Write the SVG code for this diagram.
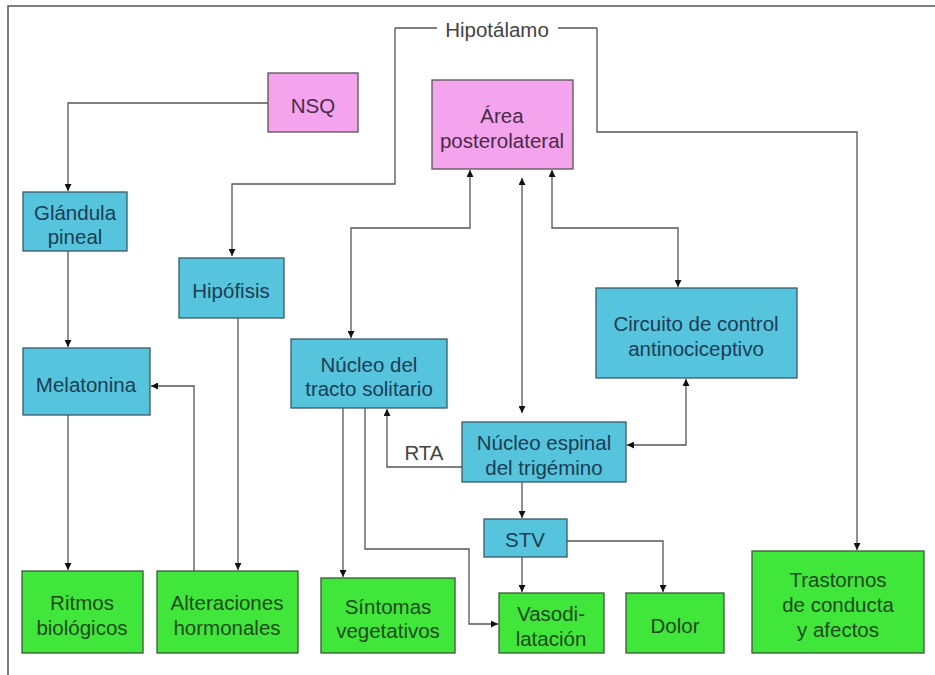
<svg xmlns="http://www.w3.org/2000/svg" width="935" height="675" viewBox="0 0 935 675">
<defs>
<marker id="ah" viewBox="0 0 10 10" refX="10" refY="5" markerWidth="7" markerHeight="7" markerUnits="userSpaceOnUse" orient="auto-start-reverse">
<path d="M0,0 L10,5 L0,10 z" fill="#111"/>
</marker>
<style>
.frame{stroke:#555;stroke-width:1.5;fill:none}
.c{stroke:#555;stroke-width:1.3;fill:none}
.a{marker-end:url(#ah)}
.b{marker-start:url(#ah);marker-end:url(#ah)}
.pk{fill:#f4a4ec;stroke:#555;stroke-width:1.3}
.bl{fill:#55c4dc;stroke:#3a5a66;stroke-width:1.3}
.gr{fill:#40e63a;stroke:#3a5a3a;stroke-width:1.3}
text{font-family:"Liberation Sans",Arial,sans-serif;font-size:20.5px;text-anchor:middle}
.tp{fill:#4a2a48}
.tb{fill:#1c3d54}
.tg{fill:#1e4a1e}
.tl{fill:#444}
</style>
</defs>
<rect x="0" y="0" width="935" height="675" fill="#fff"/>
<path class="frame" d="M8,675 V6 H935"/>
<g id="connectors">
<path class="c" d="M395,28 H437"/>
<path class="c" d="M558,28 H597"/>
<path class="c a" d="M395,28 V184 H232 V256"/>
<path class="c a" d="M597,28 V132 H857 V550"/>
<path class="c a" d="M268,103 H68 V191"/>
<path class="c a" d="M68,251 V347"/>
<path class="c a" d="M68,415 V570"/>
<path class="c a" d="M238,318 V570"/>
<path class="c a" d="M194,571 V386 H151"/>
<path class="c b" d="M470,170 V228 H351 V338"/>
<path class="c b" d="M522,178 V413"/>
<path class="c b" d="M552,170 V228 H678 V287"/>
<path class="c b" d="M686,379 V445 H627"/>
<path class="c a" d="M462,467 H387 V409"/>
<path class="c a" d="M522,482 V518"/>
<path class="c a" d="M522,557 V592"/>
<path class="c a" d="M567,541 H663 V592"/>
<path class="c a" d="M343,408 V577"/>
<path class="c a" d="M365,408 V549 H469 V624 H498"/>
</g>
<g id="hipotalamo"><text class="tl" x="497" y="37">Hipotálamo</text></g>
<g id="nsq"><rect class="pk" x="268" y="73" width="90" height="59"/><text class="tp" x="313" y="113">NSQ</text></g>
<g id="area"><rect class="pk" x="432" y="80" width="141" height="89"/><text class="tp" x="502" y="123">Área</text><text class="tp" x="502" y="147.5">posterolateral</text></g>
<g id="glandula"><rect class="bl" x="23" y="192" width="104" height="59"/><text class="tb" x="75" y="219.5">Glándula</text><text class="tb" x="75" y="244">pineal</text></g>
<g id="hipofisis"><rect class="bl" x="179" y="258" width="105" height="60"/><text class="tb" x="231" y="298">Hipófisis</text></g>
<g id="melatonina"><rect class="bl" x="23" y="348" width="127" height="67"/><text class="tb" x="86" y="391.5">Melatonina</text></g>
<g id="nts"><rect class="bl" x="291" y="339" width="156" height="69"/><text class="tb" x="369" y="371.5">Núcleo del</text><text class="tb" x="369" y="396">tracto solitario</text></g>
<g id="circuito"><rect class="bl" x="596" y="288" width="201" height="90"/><text class="tb" x="696" y="331">Circuito de control</text><text class="tb" x="696" y="355.5">antinociceptivo</text></g>
<g id="nucleo-espinal"><rect class="bl" x="462" y="422" width="164" height="60"/><text class="tb" x="544" y="450">Núcleo espinal</text><text class="tb" x="544" y="474.5">del trigémino</text></g>
<text class="tl" x="424" y="460">RTA</text>
<g id="stv"><rect class="bl" x="484" y="519" width="83" height="38"/><text class="tb" x="525" y="547">STV</text></g>
<g id="ritmos"><rect class="gr" x="22" y="571" width="121" height="82"/><text class="tg" x="82" y="610">Ritmos</text><text class="tg" x="82" y="634.5">biológicos</text></g>
<g id="alteraciones"><rect class="gr" x="157" y="571" width="141" height="82"/><text class="tg" x="227" y="610">Alteraciones</text><text class="tg" x="227" y="634.5">hormonales</text></g>
<g id="sintomas"><rect class="gr" x="321" y="578" width="134" height="75"/><text class="tg" x="388" y="613.5">Síntomas</text><text class="tg" x="388" y="638">vegetativos</text></g>
<g id="vaso"><rect class="gr" x="499" y="593" width="105" height="60"/><text class="tg" x="551" y="621">Vasodi-</text><text class="tg" x="551" y="645.5">latación</text></g>
<g id="dolor"><rect class="gr" x="626" y="593" width="98" height="60"/><text class="tg" x="675" y="633">Dolor</text></g>
<g id="trastornos"><rect class="gr" x="752" y="551" width="172" height="102"/><text class="tg" x="838" y="587">Trastornos</text><text class="tg" x="838" y="612">de conducta</text><text class="tg" x="838" y="637">y afectos</text></g>
</svg>
